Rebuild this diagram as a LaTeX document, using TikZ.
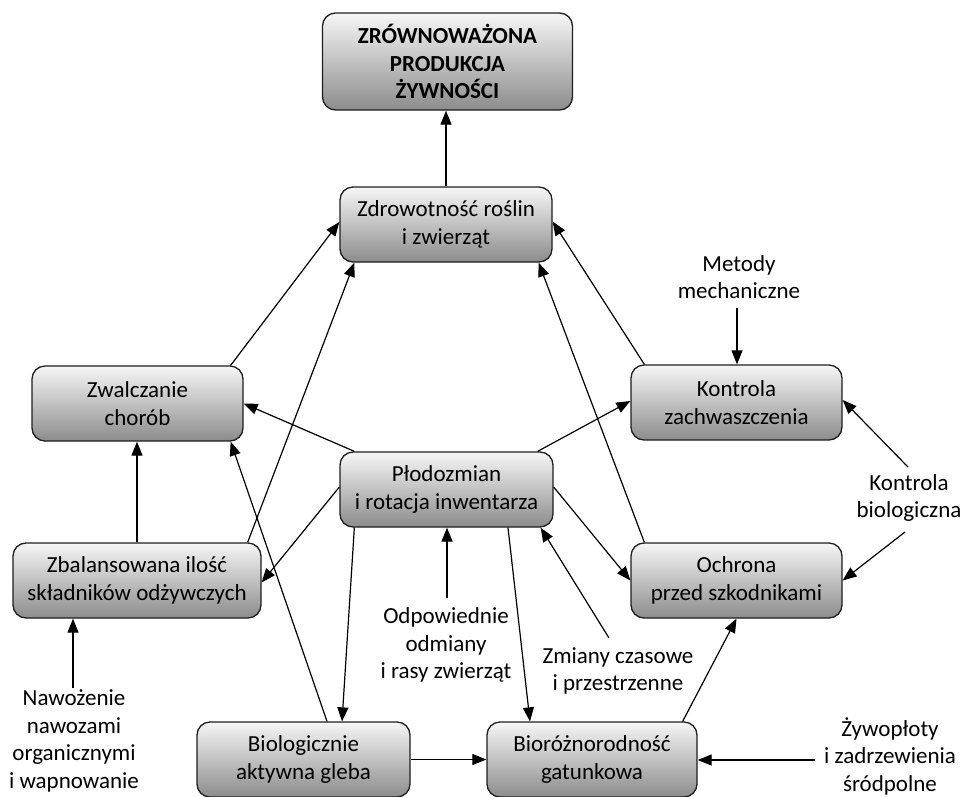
\documentclass[tikz,border=0pt]{standalone}
\usepackage{fontspec}
\setmainfont{Carlito}
\usetikzlibrary{arrows.meta}
\definecolor{boxtop}{RGB}{246,246,246}
\definecolor{boxbot}{RGB}{140,140,140}
\definecolor{boxline}{RGB}{30,30,30}
\begin{document}
\begin{tikzpicture}[x=1pt,y=-1pt,
  box/.style={draw=boxline, line width=1.3pt, rounded corners=13pt,
    top color=boxtop, bottom color=boxbot, align=center, inner sep=0pt,
    minimum width=211pt, minimum height=75pt,
    font=\fontsize{23}{27.5}\selectfont},
  lbl/.style={align=center, inner sep=0pt, font=\fontsize{23}{27.5}\selectfont},
  arr/.style={line width=1.2pt, -{Triangle[length=14pt,width=11pt]}},
  ln/.style={line width=1.2pt}]
\useasboundingbox (0,0) rectangle (962,796);

% boxes
\node[box, minimum width=250pt, minimum height=97pt, font=\fontsize{23}{27.5}\selectfont\bfseries] (top) at (447.5,61.5) {ZRÓWNOWAŻONA\\PRODUKCJA\\ŻYWNOŚCI};
\node[box, minimum width=212pt] (zdr) at (446,224.5) {Zdrowotność roślin\\i zwierząt};
\node[box] (zwal) at (137.5,403.5) {Zwalczanie\\chorób};
\node[box, minimum width=248pt] (zbal) at (137,580.5) {Zbalansowana ilość\\składników odżywczych};
\node[box] (kon) at (736.5,402.5) {Kontrola\\zachwaszczenia};
\node[box] (och) at (736.5,580.5) {Ochrona\\przed szkodnikami};
\node[box, minimum width=213pt] (plo) at (446.5,489.5) {Płodozmian\\i rotacja inwentarza};
\node[box, minimum width=213pt] (bio) at (303.5,759.5) {Biologicznie\\aktywna gleba};
\node[box, minimum width=210pt] (bior) at (592,759.5) {Bioróżnorodność\\gatunkowa};

% free labels
\node[lbl] (met) at (739,277) {Metody\\mechaniczne};
\node[lbl] (kbio) at (909,498) {Kontrola\\biologiczna};
\node[lbl] (odp) at (446,645) {Odpowiednie\\odmiany\\i rasy zwierząt};
\node[lbl] (zmi) at (618,671) {Zmiany czasowe\\i przestrzenne};
\node[lbl] (naw) at (74,741) {Nawożenie\\nawozami\\organicznymi\\i wapnowanie};
\node[lbl] (zyw) at (890,756) {Żywopłoty\\i zadrzewienia\\śródpolne};

% free ends
\coordinate (mS) at (737,308);
\coordinate (kb1) at (908,467);
\coordinate (kb2) at (905,532);
\coordinate (odS) at (447,598);
\coordinate (zmS) at (609,638);
\coordinate (nawS) at (73,688);
\coordinate (zyS) at (815,760);

% connectors between boxes
\draw[arr] (zdr.north) -- (zdr.north |- top.south);
\draw[arr] ([xshift=-13pt]zwal.north east) -- ([yshift=2.5pt]zdr.west);
\draw[arr] ([xshift=-14pt]zbal.north east) -- ([xshift=15pt]zdr.south west);
\draw[arr] ([xshift=14pt]kon.north west) -- ([yshift=3pt]zdr.east);
\draw[arr] ([xshift=14pt]och.north west) -- ([xshift=-14pt]zdr.south east);
\draw[arr] ([xshift=15pt]plo.north west) -- (zwal.east);
\draw[arr] ([xshift=-16pt]plo.north east) -- ([yshift=1.5pt]kon.west);
\draw[arr] ([yshift=2.5pt]plo.west) -- ([yshift=-2pt]zbal.east);
\draw[arr] ([yshift=2.5pt]plo.east) -- (och.west);
\draw[arr] ([xshift=15pt]plo.south west) -- ([xshift=38.5pt]bio.north);
\draw[arr] ([xshift=61.5pt]plo.south) -- ([xshift=-62pt]bior.north);
\draw[arr] (zbal.north) -- (zbal.north |- zwal.south);
\draw[arr] ([xshift=23.5pt]bio.north) -- ([xshift=-13pt]zwal.south east);
\draw[arr] (bio.east) -- (bior.west);
\draw[arr] ([xshift=-15pt]bior.north east) -- (och.south);

% connectors from labels
\draw[arr] (mS) -- (mS |- kon.north);
\draw[arr] (kb1) -- ([yshift=2.5pt]kon.east);
\draw[arr] (kb2) -- (och.east);
\draw[arr] (odS) -- (odS |- plo.south);
\draw[arr] (zmS) -- ([xshift=-13pt]plo.south east);
\draw[arr] (nawS) -- (nawS |- zbal.south);
\draw[arr] (zyS) -- (zyS -| bior.east);
\end{tikzpicture}
\end{document}
